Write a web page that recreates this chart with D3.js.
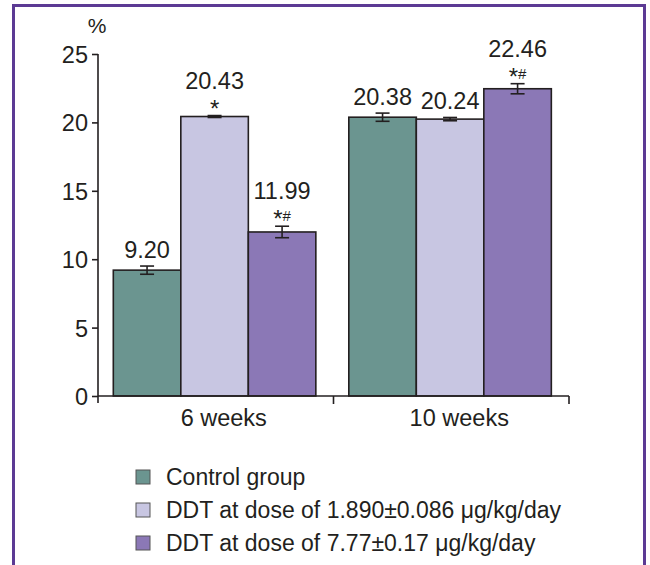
<!DOCTYPE html>
<html>
<head>
<meta charset="utf-8">
<script src="https://cdn.jsdelivr.net/npm/d3@7"></script>
<style>
  html, body { margin: 0; padding: 0; background: #fff; }
  svg text { font-family: "Liberation Sans", Arial, Helvetica, sans-serif; fill: #231f20; }
</style>
</head>
<body>
<svg id="chart" width="650" height="565"></svg>
<script>
const categories = ["6 weeks", "10 weeks"];
const seriesNames = ["Control group", "DDT at dose of 1.890±0.086 μg/kg/day", "DDT at dose of 7.77±0.17 μg/kg/day"];
const seriesColors = ["#6b9590", "#c8c6e2", "#8b78b6"];
const values6 = [9.20, 20.43, 11.99];
const values10 = [20.38, 20.24, 22.46];
const errors6 = [0.30, 0.07, 0.42];
const errors10 = [0.30, 0.12, 0.37];
const marks6 = ["", "*", "*#"];
const marks10 = ["", "", "*#"];
const yTicks = [0, 5, 10, 15, 20, 25];
const yUnit = "%";

const allValues = [values6, values10];
const allErrors = [errors6, errors10];
const allMarks = [marks6, marks10];

const svg = d3.select("#chart");

// Border frame (purple, open at bottom)
svg.append("path")
  .attr("d", "M13.5,570 L13.5,5.5 L644.5,5.5 L644.5,570")
  .attr("fill", "none").attr("stroke", "#5c3a94").attr("stroke-width", 3);

const x0 = d3.scaleBand().domain(categories).range([98, 569]).paddingInner(0).paddingOuter(0);
const x1 = d3.scaleBand().domain(d3.range(seriesNames.length))
  .range([x0.bandwidth() * 0.065, x0.bandwidth() * 0.925]).padding(0);
const y = d3.scaleLinear().domain([0, 25]).range([396, 54]);

const data = [];
categories.forEach((c, ci) => {
  seriesNames.forEach((s, si) => {
    data.push({ cat: c, si, value: allValues[ci][si], err: allErrors[ci][si], mark: allMarks[ci][si] });
  });
});

const g = svg.append("g");

// bars
g.selectAll("rect.bar").data(data).enter().append("rect")
  .attr("class", "bar")
  .attr("x", d => x0(d.cat) + x1(d.si))
  .attr("y", d => y(d.value))
  .attr("width", x1.bandwidth())
  .attr("height", d => y(0) - y(d.value))
  .attr("fill", d => seriesColors[d.si])
  .attr("stroke", "#231f20").attr("stroke-width", 1.6);

// error bars
const cap = 7;
const cx = d => x0(d.cat) + x1(d.si) + x1.bandwidth() / 2;
const eb = g.selectAll("g.err").data(data).enter().append("g").attr("class", "err")
  .attr("stroke", "#231f20").attr("stroke-width", 1.6);
eb.append("line")
  .attr("x1", cx).attr("x2", cx)
  .attr("y1", d => y(d.value - d.err)).attr("y2", d => y(d.value + d.err));
eb.append("line")
  .attr("x1", d => cx(d) - cap).attr("x2", d => cx(d) + cap)
  .attr("y1", d => y(d.value + d.err)).attr("y2", d => y(d.value + d.err));
eb.append("line")
  .attr("x1", d => cx(d) - cap).attr("x2", d => cx(d) + cap)
  .attr("y1", d => y(d.value - d.err)).attr("y2", d => y(d.value - d.err));

// value labels
g.selectAll("text.val").data(data).enter().append("text")
  .attr("class", "val")
  .attr("x", cx)
  .attr("y", d => y(d.value + d.err) - (d.mark ? 27 : 8))
  .attr("text-anchor", "middle")
  .attr("font-size", 23.5)
  .text(d => d.value.toFixed(2));

// significance marks
const mk = g.selectAll("text.mark").data(data.filter(d => d.mark)).enter().append("text")
  .attr("class", "mark")
  .attr("x", cx)
  .attr("y", d => y(d.value + d.err) + 1)
  .attr("text-anchor", "middle");
mk.append("tspan").attr("font-size", 24).text(d => d.mark[0]);
mk.filter(d => d.mark.length > 1).append("tspan").attr("font-size", 15).attr("dy", -6).text(d => d.mark.slice(1));

// y axis
const yAxis = d3.axisLeft(y).tickValues(yTicks).tickSize(6).tickSizeOuter(0).tickPadding(4);
const ya = svg.append("g").attr("transform", "translate(98,0)").call(yAxis);
ya.select(".domain").attr("stroke", "#231f20").attr("stroke-width", 1.6)
  .attr("d", `M0,${y(25)}V${y(0) + 7}`);
ya.selectAll(".tick line").attr("stroke", "#231f20").attr("stroke-width", 1.6);
ya.selectAll(".tick text").attr("font-size", 23.5).attr("fill", "#231f20").attr("dy", "0.36em");

svg.append("text").attr("x", 97).attr("y", 33).attr("text-anchor", "middle")
  .attr("font-size", 21).text(yUnit);

// x axis
const xAxis = d3.axisBottom(x0).tickSize(0).tickPadding(13);
const xa = svg.append("g").attr("transform", `translate(0,${y(0)})`).call(xAxis);
xa.select(".domain").attr("stroke", "#231f20").attr("stroke-width", 1.6)
  .attr("d", `M${x0.range()[0]},0H${x0.range()[1]}`);
xa.selectAll(".tick text").attr("font-size", 23.5).attr("fill", "#231f20").attr("dx", 8).attr("dy", "0.71em");
xa.selectAll("line.bound").data(categories).enter().append("line")
  .attr("class", "bound")
  .attr("x1", d => x0(d) + x0.bandwidth()).attr("x2", d => x0(d) + x0.bandwidth())
  .attr("y1", 0).attr("y2", 8)
  .attr("stroke", "#231f20").attr("stroke-width", 1.6);

// legend
const leg = svg.append("g").attr("transform", "translate(136,477)");
const li = leg.selectAll("g").data(seriesNames).enter().append("g")
  .attr("transform", (d, i) => `translate(0,${i * 33})`);
li.append("rect").attr("x", 0).attr("y", -7).attr("width", 14).attr("height", 14)
  .attr("fill", (d, i) => seriesColors[i]).attr("stroke", "#555").attr("stroke-width", 1);
li.append("text").attr("x", 30).attr("y", 0).attr("dy", "0.36em")
  .attr("font-size", 23).text(d => d);
</script>
</body>
</html>
